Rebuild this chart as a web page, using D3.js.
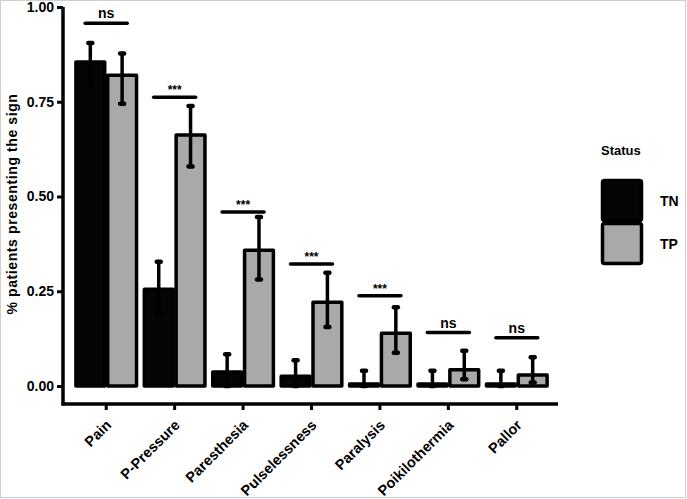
<!DOCTYPE html>
<html>
<head>
<meta charset="utf-8">
<script src="https://cdn.jsdelivr.net/npm/d3@7"></script>
<style>
  body { margin: 0; background: #fff; }
  text { font-family: "Liberation Sans", Arial, sans-serif; font-weight: bold; fill: #000; }
</style>
</head>
<body>
<svg id="chart" width="687" height="499"></svg>
<script>
// signs on the x axis
const signs = ['Pain', 'P-Pressure', 'Paresthesia', 'Pulselessness', 'Paralysis', 'Poikilothermia', 'Pallor'];
const groups = ['TN', 'TP'];

// proportions and error bar ends
const tnValue = [0.855, 0.255, 0.037, 0.026, 0.005, 0.005, 0.005];
const tnLow = [0.79, 0.19, 0.0, 0.0, 0.0, 0.0, 0.0];
const tnHigh = [0.905, 0.328, 0.084, 0.068, 0.04, 0.04, 0.04];
const tpValue = [0.82, 0.662, 0.358, 0.221, 0.139, 0.043, 0.029];
const tpLow = [0.745, 0.579, 0.281, 0.156, 0.088, 0.018, 0.009];
const tpHigh = [0.877, 0.739, 0.446, 0.299, 0.208, 0.093, 0.076];

// significance brackets
const sigLabel = ['ns', '***', '***', '***', '***', 'ns', 'ns'];
const sigLevel = [0.957, 0.762, 0.459, 0.322, 0.238, 0.141, 0.127];

const yTicks = [0, 0.25, 0.5, 0.75, 1];

const svg = d3.select('#chart');

// light frame round the picture
svg.append('rect')
  .attr('x', 0.5).attr('y', 0.5)
  .attr('width', 685).attr('height', 497)
  .attr('fill', 'none')
  .attr('stroke', '#cfcfcf');

const x = d3.scaleBand().domain(signs).range([72, 551])
  .paddingInner(0.07).paddingOuter(0.035);
const x1 = d3.scaleBand().domain(groups).range([0, x.bandwidth()]);
const y = d3.scaleLinear().domain([0, 1]).range([386, 7]);
const fill = d3.scaleOrdinal().domain(groups).range(['#050505', '#a9a9a9']);

const rows = [];
signs.forEach((s, i) => {
  rows.push({ sign: s, group: 'TN', v: tnValue[i], lo: tnLow[i], hi: tnHigh[i] });
  rows.push({ sign: s, group: 'TP', v: tpValue[i], lo: tpLow[i], hi: tpHigh[i] });
});

// bars
svg.append('g').selectAll('rect')
  .data(rows)
  .enter()
  .append('rect')
  .attr('x', d => x(d.sign) + x1(d.group) + 1.5)
  .attr('y', d => y(d.v))
  .attr('width', x1.bandwidth() - 3)
  .attr('height', d => y(0) - y(d.v))
  .attr('fill', d => fill(d.group))
  .attr('stroke', '#000')
  .attr('stroke-width', 3.5)
  .attr('stroke-linejoin', 'round');

// error bars
const err = svg.append('g')
  .attr('stroke', '#000')
  .attr('stroke-width', 3.5)
  .attr('stroke-linecap', 'round');
rows.forEach((d) => {
  const cx = x(d.sign) + x1(d.group) + x1.bandwidth() / 2;
  err.append('line')
    .attr('x1', cx).attr('x2', cx)
    .attr('y1', y(d.lo)).attr('y2', y(d.hi));
  [d.lo, d.hi].forEach((e) => {
    err.append('line')
      .attr('x1', cx - 2).attr('x2', cx + 2)
      .attr('y1', y(e)).attr('y2', y(e))
      .attr('stroke-width', 4.5);
  });
});

// significance lines and labels
signs.forEach((s, i) => {
  const cx = x(s) + x.bandwidth() / 2;
  svg.append('line')
    .attr('x1', cx - 21).attr('x2', cx + 21)
    .attr('y1', y(sigLevel[i])).attr('y2', y(sigLevel[i]))
    .attr('stroke', '#000')
    .attr('stroke-width', 3.5)
    .attr('stroke-linecap', 'round');
  svg.append('text')
    .attr('x', cx)
    .attr('y', y(sigLevel[i]) - (sigLabel[i] === 'ns' ? 5 : 3))
    .attr('text-anchor', 'middle')
    .style('font-size', sigLabel[i] === 'ns' ? '14px' : '12px')
    .text(sigLabel[i]);
});

// y axis
const yAxis = svg.append('g')
  .attr('transform', 'translate(63,0)')
  .call(d3.axisLeft(y).tickValues(yTicks).tickFormat(d3.format('.2f')).tickSize(6).tickPadding(3));
yAxis.select('.domain').remove();
yAxis.append('line')
  .attr('x1', 0).attr('x2', 0)
  .attr('y1', 7).attr('y2', 405.5)
  .attr('stroke', '#000').attr('stroke-width', 3.5);
yAxis.selectAll('.tick line').attr('stroke-width', 3);
yAxis.selectAll('.tick text')
  .style('font-size', '14px')
  .style('font-family', '"Liberation Sans", Arial, sans-serif')
  .style('font-weight', 'bold');

// x axis
const xAxis = svg.append('g')
  .attr('transform', 'translate(0,404)')
  .call(d3.axisBottom(x).tickSize(6).tickPadding(4));
xAxis.select('.domain').remove();
xAxis.append('line')
  .attr('x1', 61.5).attr('x2', 558)
  .attr('y1', 0).attr('y2', 0)
  .attr('stroke', '#000').attr('stroke-width', 3.5);
xAxis.selectAll('.tick line').attr('stroke-width', 3);
xAxis.selectAll('.tick text')
  .style('font-size', '14.5px')
  .style('font-family', '"Liberation Sans", Arial, sans-serif')
  .style('font-weight', 'bold')
  .attr('text-anchor', 'end')
  .attr('dy', null)
  .attr('transform', 'translate(6,22) rotate(-45)')
  .attr('y', 0).attr('x', 0);

// y axis title
svg.append('text')
  .attr('transform', 'translate(17,204) rotate(-90)')
  .attr('text-anchor', 'middle')
  .style('font-size', '14px')
  .style('letter-spacing', '0.6px')
  .text('% patients presenting the sign');

// legend
const legend = svg.append('g').attr('transform', 'translate(601,179)');
legend.append('text')
  .attr('x', 0).attr('y', -24)
  .style('font-size', '13px')
  .text('Status');
groups.forEach((g, i) => {
  legend.append('rect')
    .attr('x', 1.5).attr('y', i * 43 + 1.5)
    .attr('width', 39).attr('height', 40)
    .attr('rx', 2)
    .attr('fill', fill(g))
    .attr('stroke', '#000')
    .attr('stroke-width', 3.5);
  legend.append('text')
    .attr('x', 59).attr('y', i * 43 + 27)
    .style('font-size', '14px')
    .text(g);
});
</script>
</body>
</html>
